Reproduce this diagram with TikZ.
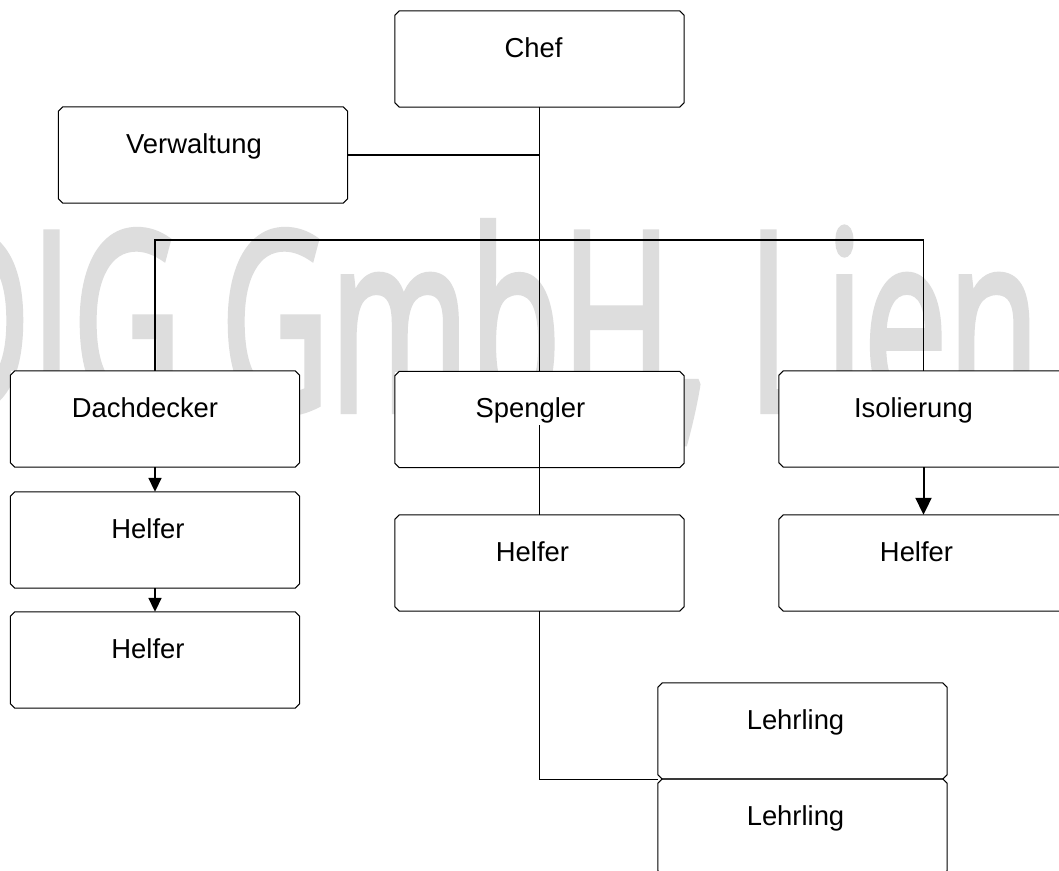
\documentclass[tikz,border=0pt]{standalone}
\usepackage{fontspec}
\setmainfont{Liberation Sans}
\newfontfamily\wmfont[FakeBold=2.5]{Open Sans}
\usetikzlibrary{arrows.meta}
\definecolor{wmgray}{RGB}{221,221,221}
\tikzset{
  orgbox/.style={rectangle, draw=none, fill=white,
    minimum width=289pt, minimum height=96pt, inner sep=0pt},
  boxline/.style={line width=1pt, draw=black, line join=miter},
  lbl/.style={anchor=base, inner sep=0pt, font=\fontsize{27.4}{33}\selectfont},
  link/.style={line width=1.1pt, draw=black},
  stem/.style={line width=1.9pt, draw=black},
  flow/.style={line width=1.8pt, -{Triangle[length=14pt,width=13pt]}},
  bigflow/.style={line width=2pt, -{Triangle[length=17pt,width=16pt]}},
}
\begin{document}
\begin{tikzpicture}[x=1pt,y=-1pt]
\clip (0,0) rectangle (1059,870);
\fill[white] (0,0) rectangle (1059,870);

% company name in the background
\node[anchor=base west, inner sep=0pt, text=wmgray,
      font=\wmfont\fontsize{250}{250}\selectfont] (wm) at (-79,411)
      {\scalebox{0.6}[1]{DIG GmbH, Lien}};

% boxes
\node[orgbox] (chef) at (539.5,59)  {};
\node[orgbox] (verw) at (203,155)   {};
\node[orgbox] (dach) at (155,419)   {};
\node[orgbox] (sp)   at (539.5,419.5) {};
\node[orgbox] (iso)  at (923.5,419) {};
\node[orgbox] (h1)   at (155,540)   {};
\node[orgbox] (h2)   at (155,660)   {};
\node[orgbox] (hs)   at (539.5,563) {};
\node[orgbox] (hi)   at (923.5,563) {};
\node[orgbox] (l1)   at (802.5,731) {};
\node[orgbox] (l2)   at (802.5,827) {};

% chamfered outlines
\foreach \n in {chef,verw,dach,sp,iso,h1,h2,hs,hi,l1,l2}
  \draw[boxline] ([xshift=4.5pt]\n.north west) -- ([xshift=-4.5pt]\n.north east)
    -- ([yshift=-4.5pt]\n.north east) -- ([yshift=4.5pt]\n.south east)
    -- ([xshift=-4.5pt]\n.south east) -- ([xshift=4.5pt]\n.south west)
    -- ([yshift=4.5pt]\n.south west) -- ([yshift=-4.5pt]\n.north west) -- cycle;

% box captions
\node[lbl] (chef-t) at ([shift={(-6,-2)}]chef.center) {Chef};
\node[lbl] (verw-t) at ([shift={(-9,-2)}]verw.center) {Verwaltung};
\node[lbl] (dach-t) at ([shift={(-10,-2)}]dach.center) {Dachdecker};
\node[lbl] (sp-t)   at ([shift={(-9,-2)}]sp.center)   {Spengler};
\node[lbl] (iso-t)  at ([shift={(-10,-2)}]iso.center) {Isolierung};
\node[lbl] (h1-t)   at ([shift={(-7,-2)}]h1.center)   {Helfer};
\node[lbl] (h2-t)   at ([shift={(-7,-2)}]h2.center)   {Helfer};
\node[lbl] (hs-t)   at ([shift={(-7,-2)}]hs.center)   {Helfer};
\node[lbl] (hi-t)   at ([shift={(-7,-2)}]hi.center)   {Helfer};
\node[lbl] (l1-t)   at ([shift={(-7,-2)}]l1.center)   {Lehrling};
\node[lbl] (l2-t)   at ([shift={(-7,-2)}]l2.center)   {Lehrling};

% connectors
\coordinate (bar) at (539.5,240);
\coordinate (spin) at (539.5,425);
\draw[stem] (chef.south) -- (bar);
\draw[link] (verw.east) -- (verw.east -| chef.south);
\draw[link] (dach.north) |- (iso.north |- bar) -- (iso.north);
\draw[link] (bar) -- (sp.north);
\draw[link] (spin) -- (hs.north);
\draw[link] (hs.south) |- (l1.south west);
\draw[flow] (dach.south) -- (h1.north);
\draw[flow] (h1.south) -- (h2.north);
\draw[bigflow] (iso.south) -- (hi.north);
\end{tikzpicture}
\end{document}
